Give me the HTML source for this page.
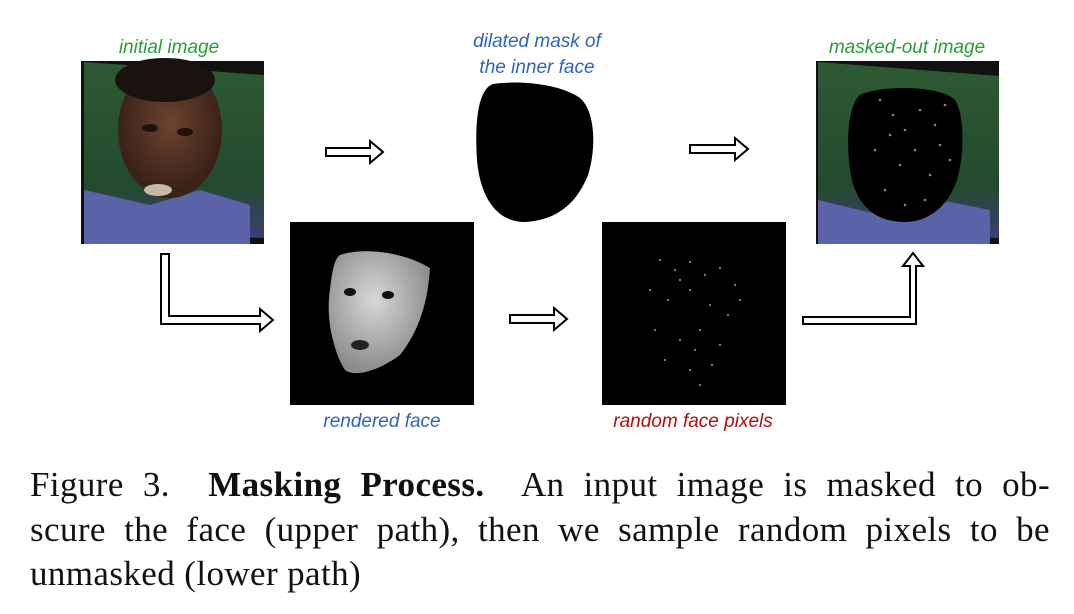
<!DOCTYPE html>
<html><head><meta charset="utf-8"><style>
body{margin:0;background:#fff;width:1074px;height:614px;overflow:hidden;position:relative}
.cap{position:absolute;left:30px;width:1020px;font-family:"Liberation Serif",serif;font-size:35px;letter-spacing:0.4px;color:#111;text-align:justify;text-align-last:justify;white-space:nowrap;line-height:1}
.lbl{font-family:"Liberation Sans",sans-serif;font-style:italic;font-size:19px}
</style></head><body>
<svg width="1074" height="460" style="position:absolute;left:0;top:0">
<defs>
<linearGradient id="g1" x1="0" y1="0" x2="0" y2="1"><stop offset="0" stop-color="#2d5a35"/><stop offset="0.7" stop-color="#234a2c"/><stop offset="1" stop-color="#3a3f7a"/></linearGradient>
<radialGradient id="sk" cx="0.5" cy="0.45" r="0.5"><stop offset="0" stop-color="#6e4330"/><stop offset="1" stop-color="#3a2218"/></radialGradient>
<radialGradient id="gf" cx="0.45" cy="0.4" r="0.6"><stop offset="0" stop-color="#d8d8d8"/><stop offset="1" stop-color="#8a8a8a"/></radialGradient>
</defs>
<g class="lbl">
<text x="169" y="53" text-anchor="middle" fill="#2a9d3a">initial image</text>
<text x="537" y="47" text-anchor="middle" fill="#2e64c0">dilated mask of</text>
<text x="537" y="73" text-anchor="middle" fill="#2e64c0">the inner face</text>
<text x="907" y="53" text-anchor="middle" fill="#2a9d3a">masked-out image</text>
<text x="382" y="427" text-anchor="middle" fill="#2e64c0">rendered face</text>
<text x="693" y="427" text-anchor="middle" fill="#b01010">random face pixels</text>
</g>
<rect x="81" y="61" width="183" height="183" fill="#111"/>
<polygon points="84,62 264,75 264,238 84,232" fill="url(#g1)"/>
<polygon points="84,190 150,205 200,190 250,205 250,244 84,244" fill="#5a63a8"/>
<ellipse cx="170" cy="130" rx="52" ry="68" fill="url(#sk)"/>
<ellipse cx="165" cy="80" rx="50" ry="22" fill="#1a120e"/>
<ellipse cx="150" cy="128" rx="8" ry="4" fill="#1d120c"/><ellipse cx="185" cy="132" rx="8" ry="4" fill="#1d120c"/>
<ellipse cx="158" cy="190" rx="14" ry="6" fill="#c8b8a8"/>
<path d="M493,84 C520,80 560,84 580,98 C596,112 596,150 588,175 C578,200 560,220 525,222 C495,222 480,195 477,160 C475,130 476,90 493,84 Z" fill="#000"/>
<rect x="816" y="61" width="183" height="183" fill="#111"/>
<polygon points="818,62 999,76 999,238 818,232" fill="url(#g1)"/>
<polygon points="818,200 880,215 940,200 990,210 990,244 818,244" fill="#5a63a8"/>
<path d="M860,95 C880,85 940,85 955,100 C965,115 965,160 955,185 C945,210 925,222 905,222 C875,222 855,205 850,170 C846,140 848,105 860,95 Z" fill="#000"/>
<g fill="#b07a5a">
<circle cx="880" cy="100" r="1.3"/><circle cx="893" cy="115" r="1.3"/><circle cx="905" cy="130" r="1.3"/><circle cx="920" cy="110" r="1.3"/><circle cx="935" cy="125" r="1.3"/><circle cx="945" cy="105" r="1.3"/><circle cx="875" cy="150" r="1.3"/><circle cx="900" cy="165" r="1.3"/><circle cx="915" cy="150" r="1.3"/><circle cx="930" cy="175" r="1.3"/><circle cx="950" cy="160" r="1.3"/><circle cx="885" cy="190" r="1.3"/><circle cx="905" cy="205" r="1.3"/><circle cx="925" cy="200" r="1.3"/><circle cx="940" cy="145" r="1.3"/><circle cx="890" cy="135" r="1.3"/>
</g>
<rect x="290" y="222" width="184" height="183" fill="#000"/>
<path d="M340,255 C360,248 400,250 430,268 C428,300 420,330 400,355 C380,370 355,378 345,370 C335,355 325,320 330,290 C332,270 335,258 340,255 Z" fill="url(#gf)"/>
<ellipse cx="350" cy="292" rx="6" ry="4" fill="#111"/><ellipse cx="388" cy="295" rx="6" ry="4" fill="#111"/>
<ellipse cx="360" cy="345" rx="9" ry="5" fill="#222"/>
<rect x="602" y="222" width="184" height="183" fill="#000"/>
<g fill="#9a6a50">
<circle cx="660" cy="260" r="1.2"/><circle cx="675" cy="270" r="1.2"/><circle cx="690" cy="262" r="1.2"/><circle cx="705" cy="275" r="1.2"/><circle cx="720" cy="268" r="1.2"/><circle cx="735" cy="285" r="1.2"/><circle cx="650" cy="290" r="1.2"/><circle cx="668" cy="300" r="1.2"/><circle cx="690" cy="290" r="1.2"/><circle cx="710" cy="305" r="1.2"/><circle cx="728" cy="315" r="1.2"/><circle cx="655" cy="330" r="1.2"/><circle cx="680" cy="340" r="1.2"/><circle cx="700" cy="330" r="1.2"/><circle cx="720" cy="345" r="1.2"/><circle cx="665" cy="360" r="1.2"/><circle cx="690" cy="370" r="1.2"/><circle cx="712" cy="365" r="1.2"/><circle cx="700" cy="385" r="1.2"/><circle cx="680" cy="280" r="1.2"/><circle cx="740" cy="300" r="1.2"/><circle cx="695" cy="350" r="1.2"/>
</g>
<g fill="#fff" stroke="#000" stroke-width="2">
<path d="M326,148 L370,148 L370,141 L383,152 L370,163 L370,156 L326,156 Z"/>
<path d="M690,145 L735,145 L735,138 L748,149 L735,160 L735,153 L690,153 Z"/>
<path d="M510,315 L554,315 L554,308 L567,319 L554,330 L554,323 L510,323 Z"/>
<path d="M161,254 L169,254 L169,316 L260,316 L260,309 L273,320 L260,331 L260,324 L161,324 Z"/>
<path d="M803,317 L910,317 L910,266 L903,266 L913,253 L923,266 L916,266 L916,324 L803,324 Z"/>
</g>
</svg>
<div class="cap" style="top:467px">Figure 3.&nbsp; <b>Masking Process.</b>&nbsp; An input image is masked to ob-</div>
<div class="cap" style="top:512px">scure the face (upper path), then we sample random pixels to be</div>
<div class="cap" style="top:556px;text-align-last:left;text-align:left">unmasked (lower path)</div>
</body></html>
